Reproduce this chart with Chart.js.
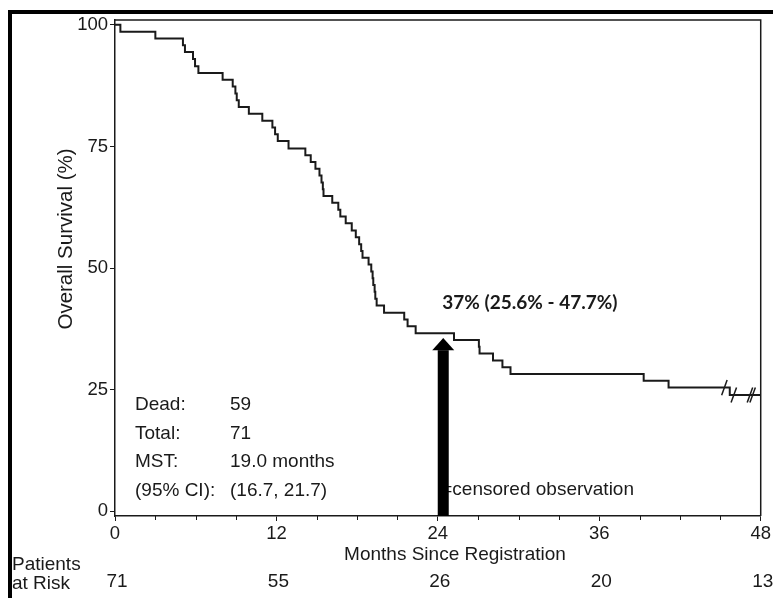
<!DOCTYPE html>
<html>
<head>
<meta charset="utf-8">
<script src="https://cdn.jsdelivr.net/npm/chart.js@4"></script>
<style>
  html, body { margin: 0; background: #fff; }
  #wrap { width: 773px; height: 598px; }
</style>
</head>
<body>
<div id="wrap"><canvas id="km" width="773" height="598"></canvas></div>
<script>
// Kaplan-Meier steps (month of each drop, survival % after it)
const months = [0, 0.4, 3.0, 5.05, 5.2, 5.8, 5.95, 6.2, 8.0, 8.75, 8.95, 9.05, 9.2, 9.95,
  10.95, 11.7, 11.9, 12.1, 12.9, 14.15, 14.55, 14.9, 15.2, 15.35, 15.45, 15.5, 16.15,
  16.6, 16.75, 17.15, 17.6, 17.9, 18.15, 18.3, 18.4, 18.85, 19.05, 19.15, 19.2, 19.3,
  19.35, 19.45, 20.0, 21.5, 21.75, 22.35, 25.2, 27.05, 27.1, 28.1, 28.8, 29.4, 39.3,
  41.15, 45.7, 48];
const survival = [100, 98.6, 97.2, 95.8, 94.4, 93.0, 91.5, 90.1, 88.7, 87.3, 85.9, 84.5, 83.1, 81.7,
  80.3, 78.9, 77.5, 76.1, 74.6, 73.2, 71.8, 70.4, 69.0, 67.6, 66.2, 64.8, 63.4,
  62.0, 60.6, 59.2, 57.7, 56.3, 54.9, 53.5, 52.1, 50.7, 49.3, 47.9, 46.5, 45.1,
  43.7, 42.3, 40.8, 39.4, 38.0, 36.6, 35.2, 33.8, 32.4, 31.0, 29.6, 28.2, 26.8,
  25.4, 23.9, 23.9];

// censored observations near the end of follow-up
const censorMonths = [45.3, 46.0, 47.2, 47.4];
const censorSurvival = [25.4, 23.9, 23.9, 23.9];

const xTicks = [0, 12, 24, 36, 48];
const xMinorTicks = [3, 6, 9, 15, 18, 21, 27, 30, 33, 39, 42, 45];
const yTicks = [0, 25, 50, 75, 100];
const atRisk = ['71', '55', '26', '20', '13'];

const statLabels = ['Dead:', 'Total:', 'MST:', '(95% CI):'];
const statValues = ['59', '71', '19.0 months', '(16.7, 21.7)'];

const landmarkMonth = 24.4;      // arrow position
const landmarkTip = 35.6;        // arrow tip (%)
const landmarkHead = 33.1;       // where the arrow head starts (%)
const landmarkText = '37% (25.6% - 47.7%)';

const FONT = '"Liberation Sans", Arial, sans-serif';
const INK = '#1a1a1a';

const kmPoints = months.map((m, i) => ({ x: m, y: survival[i] }));
const censorPoints = censorMonths.map((m, i) => ({ x: m, y: censorSurvival[i] }));

const decor = {
  id: 'decor',
  beforeDraw(chart) {
    const ctx = chart.ctx;
    ctx.save();
    ctx.fillStyle = '#fff';
    ctx.fillRect(0, 0, chart.width, chart.height);
    // outer picture border (left + top)
    ctx.fillStyle = '#000';
    ctx.fillRect(8, 10, 4, chart.height);
    ctx.fillRect(8, 10, chart.width, 4);
    ctx.restore();
  },
  afterDraw(chart) {
    const ctx = chart.ctx;
    const a = chart.chartArea;
    const xs = chart.scales.x, ys = chart.scales.y;
    ctx.save();

    // top and right side of the plot box
    ctx.strokeStyle = INK;
    ctx.lineWidth = 1.5;
    ctx.beginPath();
    ctx.moveTo(a.left, a.top);
    ctx.lineTo(a.right, a.top);
    ctx.lineTo(a.right, a.bottom);
    ctx.stroke();

    // minor ticks on the month axis
    ctx.lineWidth = 1;
    xMinorTicks.forEach(m => {
      const px = Math.round(xs.getPixelForValue(m)) + 0.5;
      ctx.beginPath();
      ctx.moveTo(px, a.bottom);
      ctx.lineTo(px, a.bottom + 4);
      ctx.stroke();
    });

    ctx.fillStyle = INK;
    ctx.textBaseline = 'middle';

    // summary block
    ctx.font = '19px ' + FONT;
    ctx.textAlign = 'left';
    statLabels.forEach((t, i) => {
      const y = 405 + i * 28.5;
      ctx.fillText(t, 135, y);
      ctx.fillText(statValues[i], 230, y);
    });

    // censor legend text (arrow drawn over its start)
    ctx.fillText('=censored observation', xs.getPixelForValue(landmarkMonth) - 2, 490);

    // landmark estimate
    ctx.font = 'bold 19px Lato, "Open Sans", sans-serif';
    ctx.fillText(landmarkText, xs.getPixelForValue(landmarkMonth) - 1, 303);

    // arrow
    const ax = xs.getPixelForValue(landmarkMonth);
    const yTip = ys.getPixelForValue(landmarkTip);
    const yHead = ys.getPixelForValue(landmarkHead);
    ctx.fillStyle = '#000';
    ctx.fillRect(ax - 5.5, yHead, 11, a.bottom - yHead);
    ctx.beginPath();
    ctx.moveTo(ax - 11, yHead);
    ctx.lineTo(ax, yTip);
    ctx.lineTo(ax + 11, yHead);
    ctx.closePath();
    ctx.fill();

    // axis titles
    ctx.fillStyle = INK;
    ctx.font = '19px ' + FONT;
    ctx.textAlign = 'center';
    ctx.fillText('Months Since Registration', 455, 555);
    ctx.save();
    ctx.translate(66, 239);
    ctx.rotate(-Math.PI / 2);
    ctx.font = '20.5px ' + FONT;
    ctx.fillText('Overall Survival (%)', 0, 0);
    ctx.restore();

    // patients at risk
    ctx.textAlign = 'left';
    ctx.fillText('Patients', 12, 565);
    ctx.fillText('at Risk', 12, 584);
    ctx.textAlign = 'center';
    xTicks.forEach((m, i) => {
      ctx.fillText(atRisk[i], xs.getPixelForValue(m) + 2, 582);
    });

    ctx.restore();
  }
};

new Chart(document.getElementById('km'), {
  type: 'line',
  data: {
    datasets: [
      {
        data: kmPoints,
        stepped: 'before',
        borderColor: INK,
        borderWidth: 2,
        pointRadius: 0,
        fill: false
      },
      {
        type: 'scatter',
        data: censorPoints,
        showLine: false,
        pointStyle: 'line',
        rotation: -70,
        pointRadius: 8,
        borderColor: INK,
        borderWidth: 1.5
      }
    ]
  },
  options: {
    responsive: false,
    animation: false,
    devicePixelRatio: 1,
    layout: { padding: { left: 0, top: 20, right: 11, bottom: 0 } },
    plugins: { legend: { display: false }, tooltip: { enabled: false } },
    scales: {
      x: {
        type: 'linear',
        min: 0,
        max: 48,
        afterBuildTicks: s => { s.ticks = xTicks.map(v => ({ value: v })); },
        afterFit: s => { s.height = 82; },
        border: { display: true, color: INK, width: 1.5 },
        grid: { display: true, drawOnChartArea: false, drawTicks: true, tickLength: 5, color: INK },
        ticks: { color: INK, font: { family: FONT, size: 18.5 }, padding: 2, maxRotation: 0, autoSkip: false }
      },
      y: {
        type: 'linear',
        min: -1,
        max: 101,
        afterBuildTicks: s => { s.ticks = yTicks.map(v => ({ value: v })); },
        afterFit: s => { s.width = 115; },
        border: { display: true, color: INK, width: 1.5 },
        grid: { display: true, drawOnChartArea: false, drawTicks: true, tickLength: 5, color: INK },
        ticks: { color: INK, font: { family: FONT, size: 18.5 }, padding: 2 }
      }
    }
  },
  plugins: [decor]
});
</script>
</body>
</html>
